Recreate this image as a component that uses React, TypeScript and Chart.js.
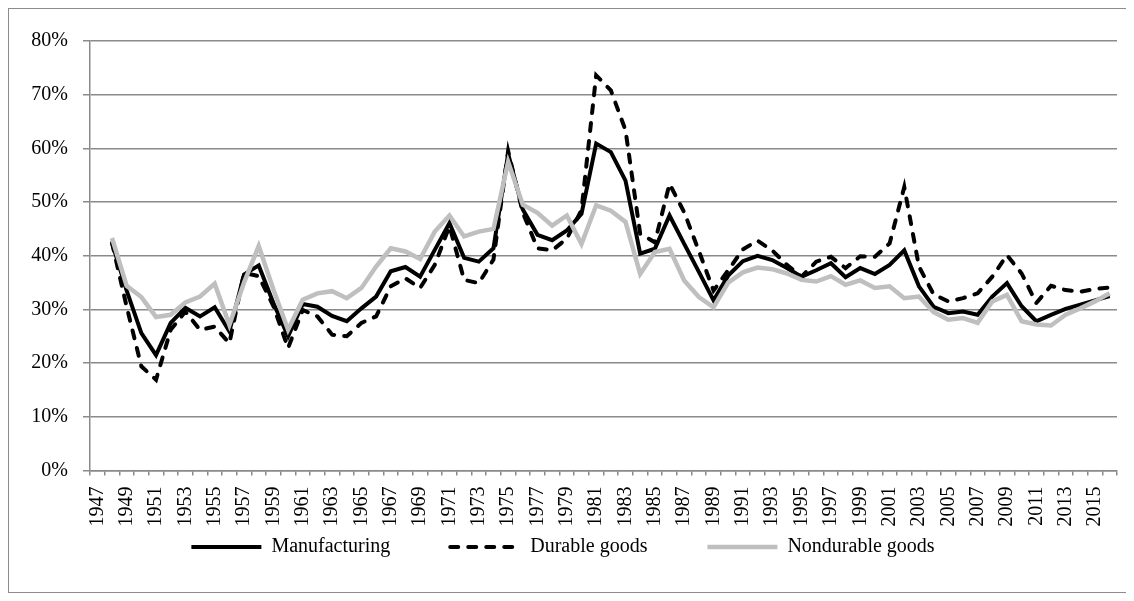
import React, { useEffect, useRef } from "react";
import { Chart, registerables } from "chart.js";

Chart.register(...registerables);

const years: string[] = [
  "1947","1948","1949","1950","1951","1952","1953","1954","1955","1956",
  "1957","1958","1959","1960","1961","1962","1963","1964","1965","1966",
  "1967","1968","1969","1970","1971","1972","1973","1974","1975","1976",
  "1977","1978","1979","1980","1981","1982","1983","1984","1985","1986",
  "1987","1988","1989","1990","1991","1992","1993","1994","1995","1996",
  "1997","1998","1999","2000","2001","2002","2003","2004","2005","2006",
  "2007","2008","2009","2010","2011","2012","2013","2014","2015","2016",
];

const manufacturing: (number | null)[] = [
  null, 42.4, 33.5, 25.6, 21.5, 27.5, 30.3, 28.7, 30.4, 25.9,
  36.5, 38.2, 31.2, 25.0, 31.0, 30.5, 28.8, 27.8, 30.2, 32.4,
  37.1, 37.9, 36.1, 41.1, 46.1, 39.6, 38.9, 41.4, 59.0, 48.6,
  43.9, 42.9, 44.7, 47.8, 60.9, 59.3, 54.0, 40.4, 41.3, 47.5,
  42.2, 37.0, 31.7, 36.3, 39.0, 40.0, 39.2, 37.7, 36.1, 37.3,
  38.6, 36.0, 37.7, 36.6, 38.3, 41.0, 34.3, 30.5, 29.3, 29.6,
  29.0, 32.4, 34.9, 30.6, 27.8, 29.0, 30.1, 30.9, 31.7, 32.5,
];

const durableGoods: (number | null)[] = [
  null, 42.4, 30.5, 19.4, 16.9, 26.2, 29.6, 26.2, 26.8, 23.7,
  36.8, 36.2, 30.6, 22.8, 29.9, 28.7, 25.3, 25.0, 27.5, 28.7,
  34.3, 35.8, 34.0, 38.3, 45.5, 35.5, 34.9, 39.3, 59.5, 48.0,
  41.4, 41.0, 43.2, 48.5, 73.6, 70.8, 63.4, 44.1, 42.5, 53.4,
  48.1, 40.9, 33.5, 37.3, 41.2, 42.8, 41.0, 38.3, 36.1, 38.9,
  39.8, 37.7, 39.9, 39.8, 42.3, 52.8, 38.0, 32.8, 31.5, 32.1,
  33.0, 36.1, 40.1, 36.7, 31.2, 34.4, 33.6, 33.3, 33.8, 34.1,
];

const nondurableGoods: (number | null)[] = [
  null, 43.3, 34.4, 32.3, 28.6, 29.0, 31.3, 32.4, 34.8, 27.1,
  35.0, 41.8, 33.7, 26.2, 31.8, 33.0, 33.4, 32.1, 34.0, 38.0,
  41.4, 40.8, 39.4, 44.5, 47.5, 43.6, 44.5, 45.0, 57.5, 49.5,
  48.0, 45.6, 47.5, 42.2, 49.4, 48.4, 46.3, 36.6, 40.7, 41.3,
  35.4, 32.3, 30.4, 35.0, 36.9, 37.8, 37.5, 36.7, 35.5, 35.2,
  36.2, 34.6, 35.4, 34.0, 34.3, 32.1, 32.4, 29.5, 28.1, 28.4,
  27.5, 31.5, 32.7, 27.8, 27.2, 27.0, 29.0, 30.2, 31.5, 33.0,
];

const seriesNames = ["Manufacturing", "Durable goods", "Nondurable goods"];

const FONT = "'Liberation Serif', 'Times New Roman', serif";
const GRID = "#8a8a8a";
const LEGEND_GAP = "          ";

export default function App() {
  const ref = useRef<HTMLCanvasElement | null>(null);

  useEffect(() => {
    if (!ref.current) return;
    const chart = new Chart(ref.current, {
      type: "line",
      data: {
        labels: years,
        datasets: [
          {
            label: seriesNames[0],
            data: manufacturing,
            borderColor: "#000000",
            backgroundColor: "#000000",
            borderWidth: 4,
            pointRadius: 0,
            tension: 0,
            order: 2,
          },
          {
            label: seriesNames[1],
            data: durableGoods,
            borderColor: "#000000",
            backgroundColor: "#000000",
            borderWidth: 4,
            borderDash: [8, 10],
            borderCapStyle: "round",
            pointRadius: 0,
            tension: 0,
            order: 1,
          },
          {
            label: seriesNames[2],
            data: nondurableGoods,
            borderColor: "#bfbfbf",
            backgroundColor: "#bfbfbf",
            borderWidth: 4.5,
            pointRadius: 0,
            tension: 0,
            order: 0,
          },
        ],
      },
      options: {
        responsive: false,
        animation: false,
        devicePixelRatio: 1,
        layout: { padding: { left: 0, right: 14, top: 32, bottom: 25 } },
        plugins: {
          tooltip: { enabled: false },
          legend: {
            position: "bottom",
            labels: {
              usePointStyle: true,
              pointStyle: "line",
              pointStyleWidth: 70,
              padding: 10,
              color: "#000000",
              font: { family: FONT, size: 20 },
              generateLabels: (c: any) =>
                c.data.datasets.map((ds: any, i: number) => ({
                  text: seriesNames[i] + (i < 2 ? LEGEND_GAP : ""),
                  strokeStyle: ds.borderColor,
                  fillStyle: ds.borderColor,
                  lineWidth: ds.borderWidth,
                  lineDash: ds.borderDash || [],
                  lineDashOffset: 0,
                  lineCap: ds.borderCapStyle || "butt",
                  pointStyle: "line",
                  rotation: 0,
                  hidden: false,
                  datasetIndex: i,
                })),
            },
          },
        },
        scales: {
          x: {
            type: "category",
            offset: true,
            grid: {
              offset: true,
              drawOnChartArea: false,
              drawTicks: true,
              tickLength: 5,
              color: GRID,
              lineWidth: 1.5,
            },
            border: { display: true, color: GRID, width: 1.5 },
            ticks: {
              autoSkip: false,
              maxRotation: 90,
              minRotation: 90,
              padding: 11,
              color: "#000000",
              font: { family: FONT, size: 20 },
              callback: (_v: any, i: number) => (i % 2 === 0 ? years[i] : ""),
            },
            afterFit: (scale: any) => {
              scale.height = 56.5;
              scale.paddingLeft = 0;
              scale.paddingRight = 0;
            },
          },
          y: {
            min: 0,
            max: 80,
            grid: {
              color: GRID,
              lineWidth: 1.5,
              tickLength: 7,
              drawTicks: true,
            },
            border: { display: true, color: GRID, width: 1.5 },
            ticks: {
              stepSize: 10,
              padding: 15,
              color: "#000000",
              font: { family: FONT, size: 20 },
              callback: (v: any) => `${v}%`,
            },
            afterFit: (scale: any) => {
              scale.width = 81;
            },
          },
        },
      },
    });
    return () => chart.destroy();
  }, []);

  return (
    <div
      style={{
        width: 1122,
        height: 583,
        border: "1px solid #8c8c8c",
        background: "#ffffff",
      }}
    >
      <canvas ref={ref} width={1122} height={583} style={{ display: "block" }} />
    </div>
  );
}
